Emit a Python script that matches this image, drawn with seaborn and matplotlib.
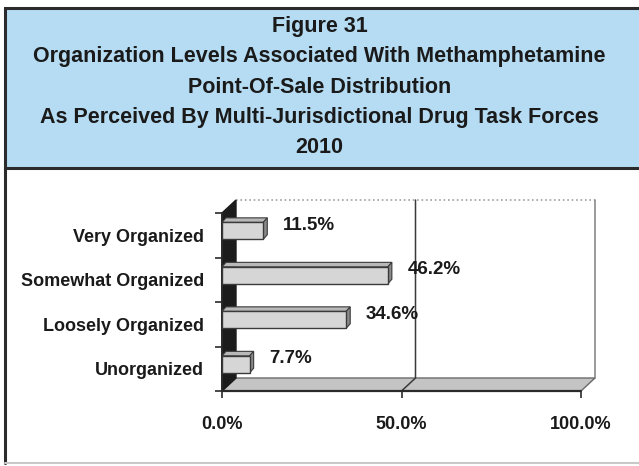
import matplotlib
matplotlib.use("Agg")
import matplotlib.pyplot as plt
import seaborn as sns
import pandas as pd
from matplotlib.patches import Polygon, Rectangle

# data
categories = ["Very Organized", "Somewhat Organized", "Loosely Organized", "Unorganized"]
values = [11.5, 46.2, 34.6, 7.7]
value_labels = ["11.5%", "46.2%", "34.6%", "7.7%"]
x_ticks = [0, 50, 100]
x_tick_labels = ["0.0%", "50.0%", "100.0%"]
title_lines = [
    "Figure 31",
    "Organization Levels Associated With Methamphetamine",
    "Point-Of-Sale Distribution",
    "As Perceived By Multi-Jurisdictional Drug Task Forces",
    "2010",
]

sns.set_theme(style="white")
plt.rcParams["font.family"] = ["Liberation Sans", "DejaVu Sans"]

W, H = 639, 466
fig = plt.figure(figsize=(W / 100, H / 100), dpi=100)


def px(x0, y0):
    return x0 / W, 1 - y0 / H


# header box and outer frame
fig.patches.append(Rectangle(px(5, 168), 1, 160 / H, transform=fig.transFigure,
                             facecolor="#b5dcf3", edgecolor="#2b2b2b", lw=2.2))
fig.lines.append(plt.Line2D([5 / W, 5 / W], [1 - 168 / H, 1 - 463 / H],
                            transform=fig.transFigure, color="#2b2b2b", lw=2.2))
fig.lines.append(plt.Line2D([5 / W, 1], [1 - 463 / H, 1 - 463 / H],
                            transform=fig.transFigure, color="#c8c8c8", lw=1.5))
for i, line in enumerate(title_lines):
    fig.text(0.5, 1 - (32 + 30.3 * i) / H, line, ha="center", va="baseline",
             fontsize=15.5, fontweight="bold", color="#1a1a1a")

# plot area
ax = fig.add_axes([222 / W, 1 - 391 / H, 359 / W, 178 / H])
df = pd.DataFrame({"category": categories, "value": values})
sns.barplot(data=df, x="value", y="category", order=categories, orient="h",
            color="#d6d6d6", edgecolor="#3a3a3a", linewidth=1.0, width=0.38,
            saturation=1, ax=ax, zorder=5)
ax.set_xlim(0, 100)
ax.set_ylim(3.5, -0.5)
for s in ax.spines.values():
    s.set_visible(False)
ax.set_xlabel("")
ax.set_ylabel("")

dx, dy = 14 / 359 * 100, 13 / 44.5
bx, by = 4 / 359 * 100, 4.5 / 44.5

# back wall, left wall, floor
ax.add_patch(Rectangle((dx, -0.5 - dy), 100, 4, facecolor="white", edgecolor="none",
                       clip_on=False, zorder=0))
ax.plot([dx, 100 + dx], [-0.5 - dy, -0.5 - dy], color="#a0a0a0", lw=1.2, ls=":",
        clip_on=False, zorder=1)
ax.plot([100 + dx, 100 + dx], [-0.5 - dy, 3.5 - dy], color="#8a8a8a", lw=1.2,
        clip_on=False, zorder=1)
ax.plot([50 + dx, 50 + dx, 50], [-0.5 - dy, 3.5 - dy, 3.5], color="#3a3a3a", lw=1.1,
        clip_on=False, zorder=2)
ax.add_patch(Polygon([(0, -0.5), (dx, -0.5 - dy), (dx, 3.5 - dy), (0, 3.5)],
                     closed=True, facecolor="#1c1c1c", edgecolor="#1c1c1c",
                     clip_on=False, zorder=3))
ax.add_patch(Polygon([(0, 3.5), (dx, 3.5 - dy), (100 + dx, 3.5 - dy), (100, 3.5)],
                     closed=True, facecolor="#c4c4c4", edgecolor="#6a6a6a", lw=1,
                     clip_on=False, zorder=1))
ax.plot([0, 100], [3.5, 3.5], color="#2a2a2a", lw=1.6, clip_on=False, zorder=4)
ax.plot([0, 0], [-0.5, 3.5], color="#2a2a2a", lw=1.4, clip_on=False, zorder=4)

# 3d faces on each bar, shifted up a little
for p, val, lab in zip(ax.patches[: len(categories)], values, value_labels):
    p.set_y(p.get_y() - 0.1)
    x1 = p.get_x() + p.get_width()
    top, bot = p.get_y(), p.get_y() + p.get_height()
    ax.add_patch(Polygon([(0, top), (bx, top - by), (x1 + bx, top - by), (x1, top)],
                         facecolor="#b8b8b8", edgecolor="#3a3a3a", lw=0.8, zorder=4))
    ax.add_patch(Polygon([(x1, top), (x1 + bx, top - by), (x1 + bx, bot - by), (x1, bot)],
                         facecolor="#8a8a8a", edgecolor="#3a3a3a", lw=0.8, zorder=4))
    ax.annotate(lab, (x1, (top + bot) / 2), xytext=(14, 4), textcoords="offset points",
                ha="left", va="center", fontsize=13.5, fontweight="bold",
                color="#1a1a1a", zorder=6)

ax.set_xticks(x_ticks)
ax.set_xticklabels(x_tick_labels, fontsize=13, fontweight="bold", color="#1a1a1a")
ax.set_yticks(range(len(categories)))
ax.set_yticklabels(categories, fontsize=13, fontweight="bold", color="#1a1a1a")
ax.set_yticks([-0.5, 0.5, 1.5, 2.5, 3.5], minor=True)
ax.tick_params(axis="y", which="major", length=0, pad=13)
ax.tick_params(axis="y", which="minor", length=5, width=1.2, color="#2a2a2a", left=True)
ax.tick_params(axis="x", which="major", length=5, width=1.2, color="#2a2a2a",
               bottom=True, pad=13)

fig.savefig("out.png", dpi=100)
